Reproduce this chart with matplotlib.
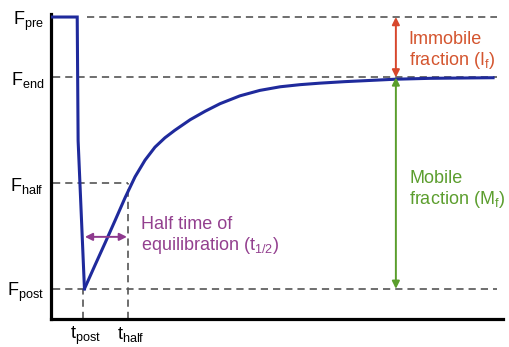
import matplotlib
matplotlib.use("Agg")
import matplotlib.pyplot as plt

plt.rcParams['font.family'] = ['Liberation Sans', 'DejaVu Sans']
plt.rcParams['lines.scale_dashes'] = False

# ---- data ----
F_pre, F_end, F_half, F_post = 1.0, 0.80, 0.45, 0.10
t_post, t_half = 7.1, 17.0

bleach_t = [0.0, 5.8, 6.0, 7.4]
bleach_F = [1.0, 1.0, 0.59, 0.10]

recov_t = [7.4, 9.7, 12.0, 14.2, 16.4, 18.6, 20.8, 23.0, 25.2, 27.4, 30.8,
           34.1, 37.4, 41.8, 46.2, 50.7, 55.1, 59.5, 65.0, 70.6, 76.1, 83.9, 97.8]
recov_F = [0.100, 0.177, 0.253, 0.327, 0.402, 0.471, 0.526, 0.569, 0.600,
           0.625, 0.660, 0.688, 0.713, 0.739, 0.757, 0.769, 0.776, 0.781,
           0.786, 0.790, 0.794, 0.797, 0.799]

y_labels = [r'F$_{\mathregular{pre}}$', r'F$_{\mathregular{end}}$',
            r'F$_{\mathregular{half}}$', r'F$_{\mathregular{post}}$']
y_levels = [F_pre, F_end, F_half, F_post]
x_labels = [r't$_{\mathregular{post}}$', r't$_{\mathregular{half}}$']
x_levels = [t_post, t_half]

arrow_x = 76.3
half_arrow_y = 0.272

# ---- figure ----
fig = plt.figure(figsize=(5.09, 3.47), dpi=100)
ax = fig.add_axes([51/509, 28/347, 452/509, 305/347])
ax.set_xlim(0, 100)
ax.set_ylim(0, 1.01)
for s in ['top', 'right']:
    ax.spines[s].set_visible(False)
for s in ['left', 'bottom']:
    ax.spines[s].set_linewidth(2.3)
    ax.spines[s].set_color('black')
ax.set_xticks([])
ax.set_yticks([])

dash_kw = dict(color='#555555', lw=1.2, dashes=(5.2, 3.6), zorder=1)
ax.plot([7.9, 98.7], [F_pre, F_pre], **dash_kw)
ax.plot([0.4, 98.7], [F_end, F_end], **dash_kw)
ax.plot([0.4, t_half], [F_half, F_half], **dash_kw)
ax.plot([0.4, 98.7], [F_post, F_post], **dash_kw)
ax.plot([t_post, t_post], [0, F_post], **dash_kw)
ax.plot([t_half, t_half], [0, F_half], **dash_kw)

blue = '#1f2a9c'
ax.plot(bleach_t, bleach_F, color=blue, lw=2.2, zorder=3, solid_joinstyle='miter')
ax.plot(recov_t, recov_F, color=blue, lw=2.2, zorder=3, solid_joinstyle='round')

# arrows
ax.annotate('', xy=(arrow_x, F_end), xytext=(arrow_x, F_pre),
            arrowprops=dict(arrowstyle='<|-|>', color='#d7472c', lw=1.4,
                            mutation_scale=11, shrinkA=0, shrinkB=0), zorder=4)
ax.annotate('', xy=(arrow_x, F_post), xytext=(arrow_x, F_end),
            arrowprops=dict(arrowstyle='<|-|>', color='#5a9e2c', lw=1.4,
                            mutation_scale=11, shrinkA=0, shrinkB=0), zorder=4)
ax.annotate('', xy=(t_half - 0.2, half_arrow_y), xytext=(7.5, half_arrow_y),
            arrowprops=dict(arrowstyle='<|-|>', color='#8e3a8e', lw=1.4,
                            mutation_scale=11, shrinkA=0, shrinkB=0), zorder=4)

# texts
ax.text(79.1, 0.887, 'Immobile\nfraction (I$_{\\mathregular{f}}$)', color='#d4552f',
        fontsize=13, ha='left', va='center', linespacing=1.15)
ax.text(79.3, 0.427, 'Mobile\nfraction (M$_{\\mathregular{f}}$)', color='#5c9e2e',
        fontsize=13, ha='left', va='center', linespacing=1.15)
ax.text(19.9, 0.275, 'Half time of\nequilibration (t$_{\\mathregular{1/2}}$)',
        color='#93408f', fontsize=13, ha='left', va='center', linespacing=1.15)

for lab, lv in zip(y_labels, y_levels):
    ax.annotate(lab, xy=(0, lv), xycoords=('axes fraction', 'data'),
                xytext=(-5, -5.4), textcoords='offset points',
                ha='right', va='baseline', fontsize=13, annotation_clip=False)
for lab, lv in zip(x_labels, x_levels):
    ax.annotate(lab, xy=(lv, 0), xycoords=('data', 'axes fraction'),
                xytext=(2, -14.5), textcoords='offset points',
                ha='center', va='baseline', fontsize=13, annotation_clip=False)

fig.savefig('out.png', dpi=100)
